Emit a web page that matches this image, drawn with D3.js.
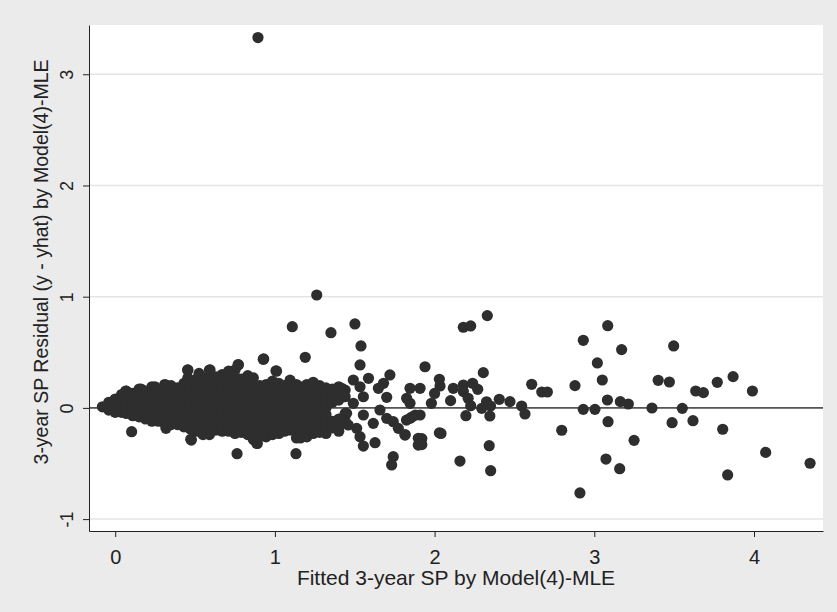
<!DOCTYPE html>
<meta charset="utf-8">
<style>
  body { margin: 0; background: #ebebeb; }
  text { font-family: "Liberation Sans", Arial, sans-serif; fill: #222; }
</style>
<body>
<script src="https://d3js.org/d3.v7.min.js"></script>
<script>

var W = 837, H = 612;
var plot = { left: 89, right: 823, top: 25, bottom: 531 };

// tick values
var xTicks = [0, 1, 2, 3, 4];
var yTicks = [-1, 0, 1, 2, 3];
var xTitle = 'Fitted 3-year SP by Model(4)-MLE';
var yTitle = '3-year SP Residual (y - yhat) by Model(4)-MLE';

// dense cluster, read column by column: [fitted, [residuals]]
var clusterCols = [
  [-0.08, [0.01]],
  [-0.04, [0.05, -0.02]],
  [0.00, [0.08, 0.03, -0.02, -0.04]],
  [0.04, [0.12, 0.06, 0.01, -0.04]],
  [0.07, [0.15, 0.09, 0.03, -0.03, -0.05]],
  [0.11, [0.13, 0.08, 0.02, -0.04, -0.07]],
  [0.15, [0.17, 0.11, 0.05, -0.01, -0.06, -0.08]],
  [0.19, [0.15, 0.09, 0.03, -0.03, -0.08, -0.10]],
  [0.23, [0.19, 0.13, 0.07, 0.01, -0.05, -0.10, -0.12]],
  [0.27, [0.16, 0.10, 0.04, -0.02, -0.08, -0.12]],
  [0.31, [0.21, 0.15, 0.09, 0.03, -0.03, -0.09, -0.14]],
  [0.35, [0.20, 0.14, 0.08, 0.02, -0.04, -0.10, -0.15]],
  [0.39, [0.18, 0.12, 0.06, 0.00, -0.06, -0.11, -0.15]],
  [0.43, [0.22, 0.16, 0.10, 0.04, -0.02, -0.08, -0.13, -0.17]],
  [0.455, [0.34, 0.27]],
  [0.47, [0.21, 0.15, 0.09, 0.03, -0.03, -0.09, -0.15, -0.19]],
  [0.51, [0.26, 0.19, 0.13, 0.07, 0.01, -0.05, -0.11, -0.17, -0.21]],
  [0.525, [0.31]],
  [0.55, [0.27, 0.21, 0.15, 0.09, 0.03, -0.03, -0.09, -0.15, -0.21, -0.24]],
  [0.59, [0.34, 0.28, 0.22, 0.16, 0.10, 0.04, -0.02, -0.08, -0.14, -0.20, -0.24]],
  [0.63, [0.28, 0.22, 0.16, 0.10, 0.04, -0.02, -0.08, -0.14, -0.20]],
  [0.67, [0.30, 0.24, 0.18, 0.12, 0.06, 0.00, -0.06, -0.12, -0.17, -0.21]],
  [0.71, [0.33, 0.27, 0.21, 0.15, 0.09, 0.03, -0.03, -0.09, -0.15, -0.21]],
  [0.75, [0.34, 0.28, 0.22, 0.16, 0.10, 0.04, -0.02, -0.08, -0.14, -0.19, -0.23]],
  [0.77, [0.39]],
  [0.79, [0.26, 0.20, 0.14, 0.08, 0.02, -0.04, -0.10, -0.16, -0.22]],
  [0.83, [0.29, 0.23, 0.17, 0.11, 0.05, -0.01, -0.07, -0.13, -0.19, -0.24]],
  [0.865, [0.27, 0.21, 0.15, 0.09, 0.03, -0.03, -0.09, -0.15, -0.21, -0.28]],
  [0.89, [-0.32]],
  [0.905, [0.20, 0.14, 0.08, 0.02, -0.04, -0.10, -0.16, -0.22, -0.26]],
  [0.93, [0.44]],
  [0.945, [0.21, 0.15, 0.09, 0.03, -0.03, -0.09, -0.15, -0.21, -0.26]],
  [0.985, [0.24, 0.18, 0.12, 0.06, 0.00, -0.06, -0.12, -0.18, -0.24]],
  [1.01, [0.33]],
  [1.025, [0.22, 0.16, 0.10, 0.04, -0.02, -0.08, -0.14, -0.19, -0.23]],
  [1.06, [0.20, 0.14, 0.08, 0.02, -0.04, -0.10, -0.16, -0.21]],
  [1.095, [0.25, 0.19, 0.13, 0.07, 0.01, -0.05, -0.11, -0.16, -0.20]],
  [1.135, [0.21, 0.15, 0.09, 0.03, -0.03, -0.09, -0.15, -0.21, -0.27]],
  [1.16, [0.19, 0.13, 0.07, 0.01, -0.05, -0.11, -0.17, -0.23, -0.27]],
  [1.20, [0.21, 0.15, 0.09, 0.03, -0.03, -0.09, -0.15, -0.21, -0.26]],
  [1.24, [0.23, 0.17, 0.11, 0.05, -0.01, -0.07, -0.13, -0.19, -0.23]],
  [1.28, [0.20, 0.14, 0.08, 0.02, -0.04, -0.10, -0.16, -0.22]],
  [1.32, [0.18, 0.12, 0.06, 0.00, -0.06, -0.12, -0.18, -0.23]],
  [1.36, [0.17, 0.11, 0.05, -0.12, -0.18]],
  [1.40, [0.19, 0.13, 0.07, -0.10, -0.17, -0.21]],
  [1.44, [0.16, 0.10, -0.05, -0.12]]
];

// scattered points outside the cluster: [fitted, residual]
var scattered = [
  [0.894, 3.33], [1.262, 1.015], [1.109, 0.73], [1.351, 0.676], [1.19, 0.455],
  [0.927, 0.437], [1.007, 0.334], [0.771, 0.386], [0.454, 0.341], [0.594, 0.341],
  [0.318, 0.206], [0.249, 0.19], [0.162, 0.17], [0.066, 0.152],
  [0.103, -0.214], [0.318, -0.184], [0.477, -0.289], [0.763, -0.412], [1.132, -0.412],
  [0.865, -0.283], [0.886, -0.318], [0.473, -0.282], [0.871, -0.289],
  [1.501, 0.755], [1.539, 0.557], [1.533, 0.386], [1.94, 0.37], [1.72, 0.296],
  [1.586, 0.266], [1.491, 0.251], [1.418, 0.176], [1.533, 0.19], [1.68, 0.221],
  [1.648, 0.176], [1.70, 0.095], [1.554, 0.10], [1.491, 0.041], [1.846, 0.176],
  [1.909, 0.176], [1.825, 0.086], [1.846, 0.041], [1.449, -0.049], [1.418, -0.11],
  [1.554, -0.064], [1.658, -0.019], [1.70, -0.094], [1.741, -0.124], [1.773, -0.184],
  [1.815, -0.244], [1.616, -0.139], [1.512, -0.184], [1.459, -0.154], [1.533, -0.259],
  [1.627, -0.313], [1.554, -0.343], [1.846, -0.094], [1.909, -0.064],
  [1.898, -0.273], [1.898, -0.334], [1.741, -0.439], [1.731, -0.513],
  [2.03, 0.257], [2.034, 0.197], [1.98, 0.041], [2.0, 0.13], [2.117, 0.176],
  [2.10, 0.065], [2.18, 0.206], [2.238, 0.221], [2.27, 0.167], [2.18, 0.147],
  [2.21, 0.086], [2.226, 0.02], [2.305, 0.317], [2.18, 0.725], [2.226, 0.737],
  [2.33, 0.83], [2.196, -0.07], [2.295, -0.004], [2.325, 0.055], [2.346, -0.073],
  [2.35, 0.017], [2.405, 0.077], [2.472, 0.056], [2.545, 0.017], [2.566, -0.055],
  [2.608, 0.212], [2.671, 0.143], [2.706, 0.143], [2.796, -0.201],
  [2.159, -0.478], [2.342, -0.34], [2.351, -0.565], [2.03, -0.225], [2.04, -0.23],
  [1.92, -0.276], [1.92, -0.33], [1.815, -0.24], [1.88, -0.064], [1.824, -0.11],
  [1.86, -0.08],
  [3.084, 0.739], [2.931, 0.608], [3.171, 0.524], [3.497, 0.557], [3.019, 0.404],
  [3.05, 0.251], [2.879, 0.20], [3.40, 0.248], [3.47, 0.233], [3.635, 0.152],
  [3.683, 0.137], [3.77, 0.23], [3.869, 0.281], [3.99, 0.152], [3.082, 0.071],
  [3.163, 0.056], [3.213, 0.035], [2.931, -0.013], [3.004, -0.013], [3.361, -0.001],
  [3.551, -0.004], [3.086, -0.124], [3.487, -0.133], [3.618, -0.115], [3.804, -0.192],
  [3.249, -0.292], [4.073, -0.40], [3.073, -0.46], [3.159, -0.547], [3.835, -0.603],
  [4.351, -0.498], [2.91, -0.765]
];

var points = [];
clusterCols.forEach(function(c) {
  c[1].forEach(function(v) { points.push([c[0], v]); });
});
scattered.forEach(function(p) { points.push(p); });

var svg = d3.select('body').append('svg')
  .attr('width', W)
  .attr('height', H);

svg.append('rect')
  .attr('width', W).attr('height', H)
  .attr('fill', '#ebebeb');

var x = d3.scaleLinear().domain([-0.164, 4.432]).range([plot.left, plot.right]);
var y = d3.scaleLinear().domain([-1.107, 3.443]).range([plot.bottom, plot.top]);

svg.append('rect')
  .attr('x', plot.left).attr('y', plot.top)
  .attr('width', plot.right - plot.left)
  .attr('height', plot.bottom - plot.top)
  .attr('fill', 'white');

// gridlines
svg.append('g').selectAll('line')
  .data(yTicks)
  .enter().append('line')
  .attr('x1', plot.left).attr('x2', plot.right)
  .attr('y1', function(d) { return y(d); })
  .attr('y2', function(d) { return y(d); })
  .attr('stroke', '#e4e4e4')
  .attr('stroke-width', 1.5);

// reference line at zero
svg.append('line')
  .attr('x1', plot.left).attr('x2', plot.right)
  .attr('y1', y(0)).attr('y2', y(0))
  .attr('stroke', '#555')
  .attr('stroke-width', 1.6);

// markers
svg.append('g').selectAll('circle')
  .data(points)
  .enter().append('circle')
  .attr('cx', function(d) { return x(d[0]); })
  .attr('cy', function(d) { return y(d[1]); })
  .attr('r', 5.6)
  .attr('fill', '#2e2e2e');

// axes, plain hyphen for negatives like the original
var fmt = function(d) { return String(d); };

var xAxis = svg.append('g')
  .attr('transform', 'translate(0,' + plot.bottom + ')')
  .call(d3.axisBottom(x).tickValues(xTicks).tickSize(6).tickSizeOuter(0).tickFormat(fmt));
xAxis.selectAll('text')
  .attr('font-size', 20)
  .style('font-family', '"Liberation Sans", Arial, sans-serif')
  .attr('y', 33).attr('dy', null);

var yAxis = svg.append('g')
  .attr('transform', 'translate(' + plot.left + ',0)')
  .call(d3.axisLeft(y).tickValues(yTicks).tickSize(6).tickSizeOuter(0).tickFormat(fmt));
yAxis.selectAll('text')
  .attr('font-size', 18)
  .style('font-family', '"Liberation Sans", Arial, sans-serif')
  .attr('x', null).attr('dy', null)
  .attr('text-anchor', 'middle')
  .attr('transform', 'translate(-16,0) rotate(-90)');

[xAxis, yAxis].forEach(function(a) {
  a.select('.domain').attr('stroke', '#222');
  a.selectAll('.tick line').attr('stroke', '#222');
});

svg.append('text')
  .attr('x', (plot.left + plot.right) / 2)
  .attr('y', 585)
  .attr('text-anchor', 'middle')
  .attr('font-size', 21)
  .text(xTitle);

svg.append('text')
  .attr('transform', 'translate(48,262) rotate(-90)')
  .attr('text-anchor', 'middle')
  .attr('font-size', 19.5)
  .text(yTitle);

</script>
</body>
